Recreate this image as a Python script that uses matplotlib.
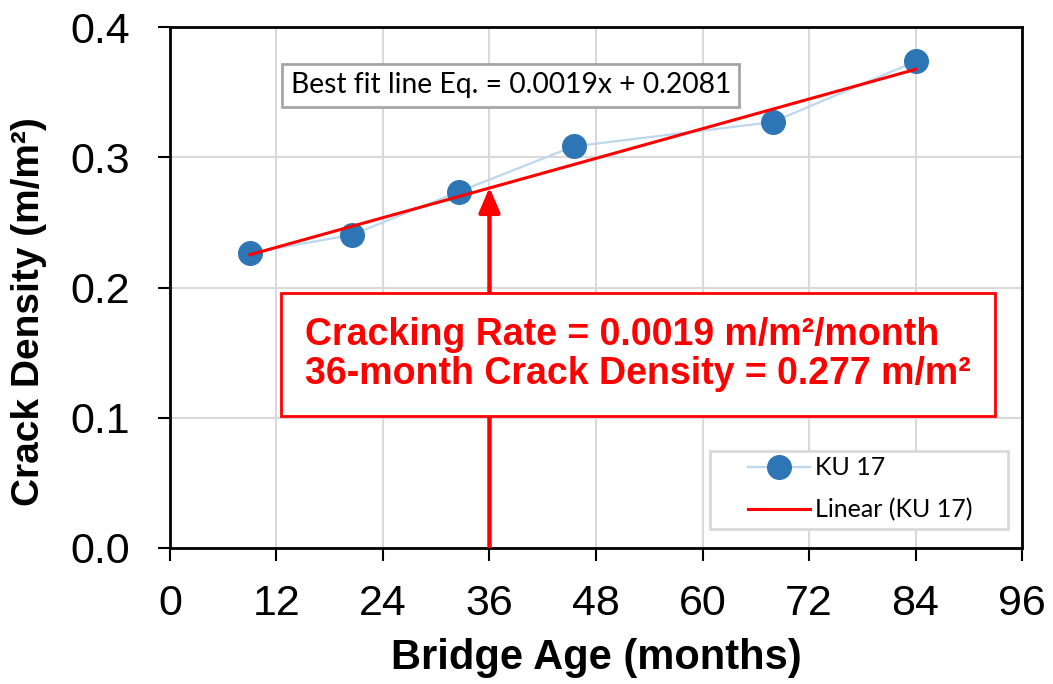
import numpy as np
import matplotlib.pyplot as plt
from matplotlib.patches import FancyArrowPatch, Rectangle

# --- data ---
age_months = [9.0, 20.5, 32.6, 45.5, 67.9, 84.0]
crack_density = [0.2265, 0.2405, 0.2738, 0.3085, 0.3272, 0.3738]
fit_slope = 0.0019
fit_intercept = 0.2081
target_age = 36
target_density = 0.277

x_ticks = [0, 12, 24, 36, 48, 60, 72, 84, 96]
y_ticks = [0.0, 0.1, 0.2, 0.3, 0.4]

plt.rcParams['font.family'] = ['Liberation Sans', 'DejaVu Sans']

fig = plt.figure(figsize=(10.53, 6.84), dpi=100)
ax = fig.add_axes([0.1614, 0.1993, 0.8092, 0.7607])

# grid
ax.set_axisbelow(True)
ax.grid(True, color='#d9d9d9', linewidth=1.5)

# data series
ax.plot(age_months, crack_density, color='#bdd7ee', linewidth=1.6,
        marker='o', markersize=17, markerfacecolor='#2e75b6',
        markeredgecolor='#2e75b6', label='KU 17', zorder=3)

# trend line
fit_x = np.array([min(age_months), max(age_months)])
fit_y = fit_slope * fit_x + fit_intercept
ax.plot(fit_x, fit_y, color='#ff0000', linewidth=2.2, label='Linear (KU 17)', zorder=4)

# arrow at 36 months
arrow = FancyArrowPatch((target_age, 0.0), (target_age, target_density),
                        arrowstyle='-|>,head_width=0.32,head_length=0.75',
                        mutation_scale=20, color='#ff0000', linewidth=3.2,
                        shrinkA=0, shrinkB=0, zorder=5)
ax.add_patch(arrow)

# red annotation box
ax.text(15.2, 0.1486,
        'Cracking Rate = 0.0019 m/m²/month\n36-month Crack Density = 0.277 m/m²',
        fontsize=27, fontweight='bold', color='#ff0000', va='center', ha='left',
        linespacing=1.12, zorder=6,
        bbox=dict(boxstyle='square,pad=0.64', facecolor='white',
                  edgecolor='#ff0000', linewidth=2))

# equation box
ax.text(13.6, 0.3555, 'Best fit line Eq. = 0.0019x + 0.2081',
        fontsize=20.3, color='black', va='center', ha='left', zorder=6,
        family=['Lato', 'DejaVu Sans'],
        bbox=dict(boxstyle='square,pad=0.3', facecolor='white',
                  edgecolor='#a6a6a6', linewidth=2))

ax.set_xlim(0, 96)
ax.set_ylim(0, 0.4)
ax.set_xticks(x_ticks)
ax.set_yticks(y_ticks)
ax.set_yticklabels([f'{v:.1f}' for v in y_ticks])
ax.tick_params(axis='both', labelsize=31, direction='out', length=9, width=1.5)
ax.tick_params(axis='x', pad=17)
ax.tick_params(axis='y', pad=20)

for s in ax.spines.values():
    s.set_color('black')
    s.set_linewidth(2)

ax.set_xlabel('Bridge Age (months)', fontsize=30, fontweight='bold')
ax.set_ylabel('Crack Density (m/m²)', fontsize=28, fontweight='bold')
ax.xaxis.label.set_va('center')
ax.yaxis.label.set_va('center')
ax.xaxis.set_label_coords(0.5, -0.212)
ax.yaxis.set_label_coords(-0.165, 0.453)

# legend frame drawn separately (wider side margins than matplotlib's)
frame = Rectangle((0.6338, 0.036), 0.3498, 0.150, transform=ax.transAxes,
                  facecolor='white', edgecolor='#d9d9d9', linewidth=2, zorder=6)
ax.add_patch(frame)
leg = ax.legend(loc='center', bbox_to_anchor=(0.810, 0.113), borderaxespad=0,
                frameon=False,
                prop={'family': ['Lato', 'DejaVu Sans'], 'size': 18},
                handlelength=2.5, handletextpad=0.2, borderpad=0.0,
                labelspacing=0.74)
leg.set_zorder(7)

fig.savefig('out.png', dpi=100)
